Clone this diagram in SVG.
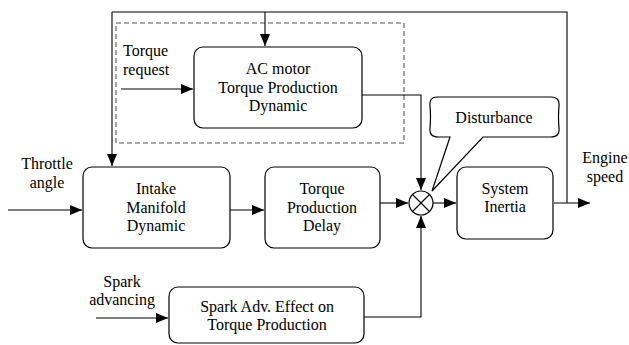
<svg xmlns="http://www.w3.org/2000/svg" width="629" height="345" viewBox="0 0 629 345" font-family="'Liberation Serif', 'DejaVu Serif', serif">
<style>
.box{fill:#fff;stroke:#000;stroke-width:1.2}
.ln{fill:none;stroke:#000;stroke-width:1.1}
.dash{fill:none;stroke:#555;stroke-width:1.1;stroke-dasharray:5,3}
text{font-family:'Liberation Serif','DejaVu Serif',serif;font-size:16px;fill:#000}
.c{text-anchor:middle}
</style>
<defs>
<marker id="arr" viewBox="0 0 12 10" refX="12" refY="5" markerWidth="12" markerHeight="10" markerUnits="userSpaceOnUse" orient="auto">
<path d="M0,0 L12,5 L0,10 Z" fill="#000"/>
</marker>
</defs>
<rect width="629" height="345" fill="#fff"/>
<g id="hybrid-frame"><rect class="dash" x="116" y="23" width="288" height="120"/></g>
<g id="connectors">
<path class="ln" d="M112,12 H567 V203" />
<path class="ln" d="M112,12 V166" marker-end="url(#arr)"/>
<path class="ln" d="M265,12 V46" marker-end="url(#arr)"/>
<path class="ln" d="M121,89 H193" marker-end="url(#arr)"/>
<path class="ln" d="M362,95 H421 V190" marker-end="url(#arr)"/>
<path class="ln" d="M8,210 H82" marker-end="url(#arr)"/>
<path class="ln" d="M230,210 H264" marker-end="url(#arr)"/>
<path class="ln" d="M380,203 H408" marker-end="url(#arr)"/>
<path class="ln" d="M433,203 H456" marker-end="url(#arr)"/>
<path class="ln" d="M554,203 H590" marker-end="url(#arr)"/>
<path class="ln" d="M96,318 H168" marker-end="url(#arr)"/>
<path class="ln" d="M364,317 H421 V216" marker-end="url(#arr)"/>
</g>
<g id="ac-motor"><rect class="box" x="194" y="47" width="168" height="81" rx="9"/>
<text class="c" x="278" y="74">AC motor</text><text class="c" x="278" y="93">Torque Production</text><text class="c" x="278" y="111">Dynamic</text></g>
<g id="intake"><rect class="box" x="83" y="167" width="147" height="81" rx="9"/>
<text class="c" x="156" y="194">Intake</text><text class="c" x="156" y="213">Manifold</text><text class="c" x="156" y="231">Dynamic</text></g>
<g id="delay"><rect class="box" x="265" y="167" width="115" height="81" rx="9"/>
<text class="c" x="322" y="194">Torque</text><text class="c" x="322" y="213">Production</text><text class="c" x="322" y="231">Delay</text></g>
<g id="inertia"><rect class="box" x="457" y="167" width="96" height="72" rx="9"/>
<text class="c" x="505" y="194">System</text><text class="c" x="505" y="212">Inertia</text></g>
<g id="spark"><rect class="box" x="169" y="287" width="195" height="56" rx="9"/>
<text class="c" x="267" y="312">Spark Adv. Effect on</text><text class="c" x="267" y="330">Torque Production</text></g>
<g id="sum"><circle class="box" cx="421" cy="203" r="12"/>
<path class="ln" d="M412.5,194.5 L429.5,211.5 M429.5,194.5 L412.5,211.5"/></g>
<g id="disturbance">
<path class="box" d="M437,97 H551 Q560,97 559,106 Q558,117 559,128 Q560,137 551,137 H483 L432,191 L450,137 H438 Q429,137 430,128 Q431,117 430,106 Q429,97 437,97 Z"/>
<text class="c" x="494" y="123">Disturbance</text></g>
<g id="labels">
<text x="123" y="56">Torque</text><text x="123" y="75">request</text>
<text class="c" x="47" y="169">Throttle</text><text class="c" x="47" y="188">angle</text>
<text class="c" x="122" y="287">Spark</text><text class="c" x="122" y="305">advancing</text>
<text class="c" x="605" y="163">Engine</text><text class="c" x="605" y="182">speed</text>
</g>
</svg>
